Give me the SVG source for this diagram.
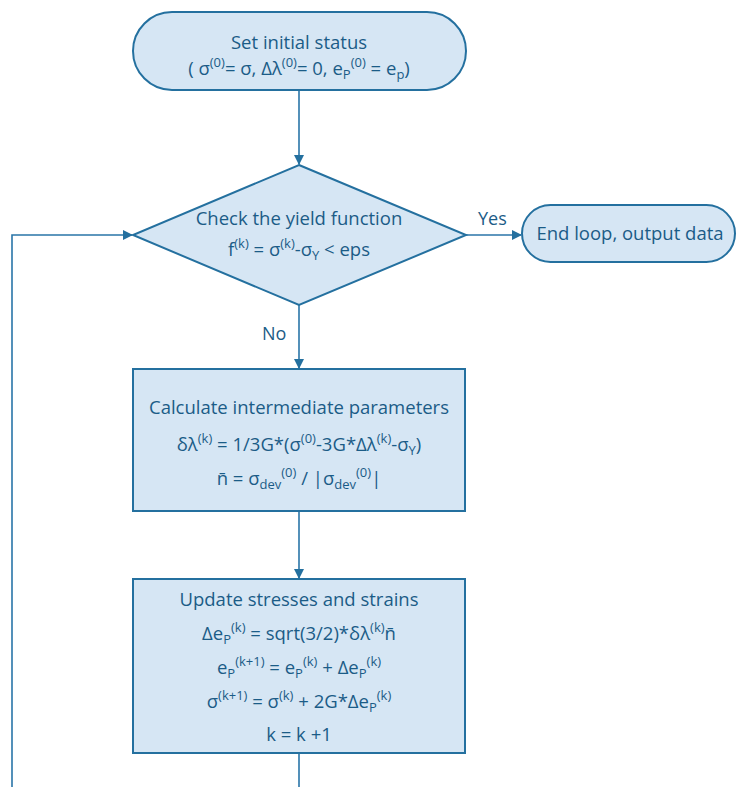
<svg xmlns="http://www.w3.org/2000/svg" width="737" height="787" viewBox="0 0 737 787">
<defs>
<style>
.node{fill:#d6e6f4;stroke:#24709f;stroke-width:2}
.t{font-family:"Open Sans","Noto Sans",sans-serif;font-size:18.5px;fill:#1b5c87;text-anchor:middle}
.lbl{font-family:"Open Sans","Noto Sans",sans-serif;font-size:18px;fill:#1b5c87}
.sup{font-size:13px}
.sub{font-size:13px}
.c{fill:none;stroke:#2a75a8;stroke-width:1.6}
</style>
<marker id="ah" markerWidth="10" markerHeight="10" refX="9" refY="5" orient="auto" markerUnits="userSpaceOnUse">
<path d="M0,0 L10,5 L0,10 Z" fill="#24709f"/>
</marker>
</defs>
<rect width="737" height="787" fill="#ffffff"/>
<g id="connectors">
<line class="c" x1="299" y1="90" x2="299" y2="164" marker-end="url(#ah)"/>
<line class="c" x1="466" y1="235" x2="521" y2="235" marker-end="url(#ah)"/>
<line class="c" x1="299" y1="305" x2="299" y2="368" marker-end="url(#ah)"/>
<line class="c" x1="299" y1="511" x2="299" y2="578" marker-end="url(#ah)"/>
<polyline class="c" points="299,753 299,790 12,790 12,235 132,235" marker-end="url(#ah)"/>
<text class="lbl" x="478" y="225">Yes</text>
<text class="lbl" x="262" y="340">No</text>
</g>
<g id="start">
<rect class="node" x="133" y="12" width="333" height="78" rx="39" ry="39"/>
<text class="t" x="299" y="49">Set initial status</text>
<text class="t" x="299" y="75">( σ<tspan class="sup" dy="-8">(0)</tspan><tspan dy="8">= σ, Δλ</tspan><tspan class="sup" dy="-8">(0)</tspan><tspan dy="8">= 0, e</tspan><tspan class="sub" dy="4">P</tspan><tspan class="sup" dy="-12">(0)</tspan><tspan dy="8"> = e</tspan><tspan class="sub" dy="4">p</tspan><tspan dy="-4">)</tspan></text>
</g>
<g id="check">
<polygon class="node" points="299,165 466,235 299,305 133,235"/>
<text class="t" x="299" y="225">Check the yield function</text>
<text class="t" x="299" y="256">f<tspan class="sup" dy="-8">(k)</tspan><tspan dy="8"> = σ</tspan><tspan class="sup" dy="-8">(k)</tspan><tspan dy="8">-σ</tspan><tspan class="sub" dy="4">Y</tspan><tspan dy="-4"> &lt; eps</tspan></text>
</g>
<g id="end">
<rect class="node" x="522" y="205" width="213" height="57" rx="28.5" ry="28.5"/>
<text class="t" x="630" y="240">End loop, output data</text>
</g>
<g id="calc">
<rect class="node" x="133" y="369" width="332" height="142"/>
<text class="t" x="299" y="414">Calculate intermediate parameters</text>
<text class="t" x="299" y="451">δλ<tspan class="sup" dy="-8">(k)</tspan><tspan dy="8"> = 1/3G*(σ</tspan><tspan class="sup" dy="-8">(0)</tspan><tspan dy="8">-3G*Δλ</tspan><tspan class="sup" dy="-8">(k)</tspan><tspan dy="8">-σ</tspan><tspan class="sub" dy="4">Y</tspan><tspan dy="-4">)</tspan></text>
<text class="t" x="299" y="485">n̄ = σ<tspan class="sub" dy="4">dev</tspan><tspan class="sup" dy="-12">(0)</tspan><tspan dy="8"> / |σ</tspan><tspan class="sub" dy="4">dev</tspan><tspan class="sup" dy="-12">(0)</tspan><tspan dy="8">|</tspan></text>
</g>
<g id="update">
<rect class="node" x="133" y="579" width="332" height="174"/>
<text class="t" x="299" y="606">Update stresses and strains</text>
<text class="t" x="299" y="640">Δe<tspan class="sub" dy="4">P</tspan><tspan class="sup" dy="-12">(k)</tspan><tspan dy="8"> = sqrt(3/2)*δλ</tspan><tspan class="sup" dy="-8">(k)</tspan><tspan dy="8">n̄</tspan></text>
<text class="t" x="299" y="674">e<tspan class="sub" dy="4">P</tspan><tspan class="sup" dy="-12">(k+1)</tspan><tspan dy="8"> = e</tspan><tspan class="sub" dy="4">P</tspan><tspan class="sup" dy="-12">(k)</tspan><tspan dy="8"> + Δe</tspan><tspan class="sub" dy="4">P</tspan><tspan class="sup" dy="-12">(k)</tspan></text>
<text class="t" x="299" y="708">σ<tspan class="sup" dy="-8">(k+1)</tspan><tspan dy="8"> = σ</tspan><tspan class="sup" dy="-8">(k)</tspan><tspan dy="8"> + 2G*Δe</tspan><tspan class="sub" dy="4">P</tspan><tspan class="sup" dy="-12">(k)</tspan></text>
<text class="t" x="299" y="741">k = k +1</text>
</g>
</svg>
